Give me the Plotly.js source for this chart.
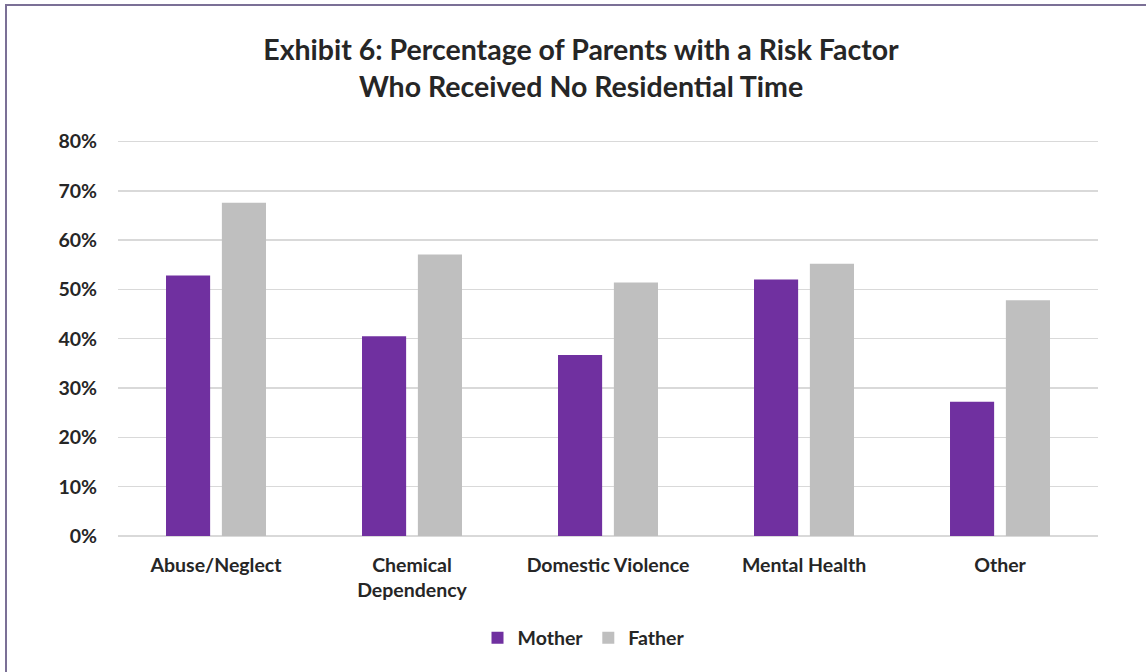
<!DOCTYPE html>
<html>
<head>
<meta charset="utf-8">
<script src="https://cdn.plot.ly/plotly-3.0.1.min.js"></script>
<style>
  html, body { margin: 0; padding: 0; background: #fff; }
  #wrap { position: relative; width: 1146px; height: 672px; overflow: hidden; }
  #chart { position: absolute; left: 0; top: 0; width: 1146px; height: 672px; }
  #frame { position: absolute; left: 5px; top: 4px; width: 1200px; height: 720px;
           border-top: 2px solid #7b7096; border-left: 2px solid #7b7096; pointer-events: none; }
</style>
</head>
<body>
<div id="wrap">
  <div id="chart"></div>
  <div id="frame"></div>
</div>
<script>
// Risk factor categories and share of parents with no residential time
const categories = ["Abuse/Neglect", "Chemical<br>Dependency", "Domestic Violence", "Mental Health", "Other"];
const motherPct = [52.8, 40.5, 36.7, 52.0, 27.2];
const fatherPct = [67.6, 57.1, 51.4, 55.2, 47.8];
const tickVals = [0, 10, 20, 30, 40, 50, 60, 70, 80];
const tickText = ["0%", "10%", "20%", "30%", "40%", "50%", "60%", "70%", "80%"];

const FONT = "Lato, 'Open Sans', sans-serif";
const INK = "#262626";

const traces = [
  {
    type: "bar", name: "Mother", x: categories, y: motherPct,
    marker: { color: "#7030A0", line: { width: 0 } },
    hoverinfo: "skip"
  },
  {
    type: "bar", name: "Father", x: categories, y: fatherPct,
    marker: { color: "#BFBFBF", line: { width: 0 } },
    hoverinfo: "skip"
  }
];

const layout = {
  width: 1146, height: 672,
  margin: { l: 118, r: 48, t: 140, b: 136 },
  paper_bgcolor: "rgba(0,0,0,0)",
  plot_bgcolor: "#fff",
  barmode: "group",
  bargap: 0.43,
  bargroupgap: 0.21,
  font: { family: FONT, color: INK, size: 19 },
  title: {
    text: "<b>Exhibit 6: Percentage of Parents with a Risk Factor<br>Who Received No Residential Time</b>",
    font: { family: FONT, size: 28.5, color: INK },
    x: 581 / 1146, xref: "container", xanchor: "center",
    y: 1 - 60 / 672, yref: "container", yanchor: "middle"
  },
  xaxis: {
    showgrid: false, zeroline: false, showline: false, ticks: "",
    ticklabelstandoff: 15,
    tickfont: { family: FONT, size: 19.5, color: INK, weight: "bold" },
    fixedrange: true
  },
  yaxis: {
    range: [0, 80.3], tickvals: tickVals, ticktext: tickText,
    showgrid: true, gridcolor: "#D9D9D9", gridwidth: 1.5,
    zeroline: true, zerolinecolor: "#D9D9D9", zerolinewidth: 1.5,
    showline: false, ticks: "", ticklabelstandoff: 20,
    tickfont: { family: FONT, size: 19.5, color: INK, weight: "bold" },
    fixedrange: true
  },
  showlegend: true,
  legend: {
    orientation: "h", x: 0.475, xanchor: "center", y: -0.258, yanchor: "middle",
    font: { family: FONT, size: 19.5, color: INK, weight: "bold" },
    itemwidth: 30, tracegroupgap: 0, traceorder: "normal"
  }
};

Plotly.newPlot("chart", traces, layout, { displayModeBar: false, staticPlot: true });
</script>
</body>
</html>
